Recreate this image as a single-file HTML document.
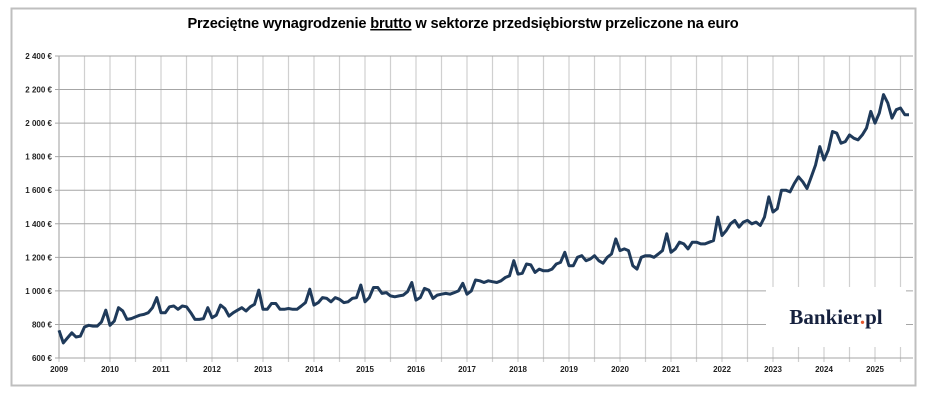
<!DOCTYPE html>
<html><head><meta charset="utf-8">
<style>
html,body{margin:0;padding:0;background:#fff;width:948px;height:403px;overflow:hidden;font-family:"Liberation Sans",Arial,sans-serif;}
</style></head><body>
<svg id="c" width="948" height="403" xmlns="http://www.w3.org/2000/svg" font-family="Liberation Sans, Arial, sans-serif">
<rect x="11.5" y="8.5" width="904" height="377" fill="#fff" stroke="#bfbfbf" stroke-width="2"/>
<text x="463" y="28" text-anchor="middle" font-size="14.6" font-weight="bold" fill="#000" letter-spacing="-0.15">Przeciętne wynagrodzenie <tspan text-decoration="underline">brutto</tspan> w sektorze przedsiębiorstw przeliczone na euro</text>
<g id="grid"></g>
<rect x="766" y="287" width="140" height="60" fill="#fff"/>
<text x="836" y="324" text-anchor="middle" font-family="Liberation Serif, serif" font-size="21" font-weight="bold" fill="#16213e">Bankier<tspan fill="#e4572e">.</tspan>pl</text>
</svg>
<script>
var svg=document.getElementById('c'),g=document.getElementById('grid');
var NS="http://www.w3.org/2000/svg";
function el(t,a,txt){var e=document.createElementNS(NS,t);for(var k in a)e.setAttribute(k,a[k]);if(txt)e.textContent=txt;return e;}
function Y(v){return 358-(v-600)*302/1800;}
var x0=59,xw=51,xr=913;
for(var h=0;h<=33;h++){var x=x0+h*xw/2;if(x>xr)break;g.appendChild(el('line',{x1:x,x2:x,y1:56,y2:362,stroke:'#d0d0d0','stroke-width':1.2}));}
for(var v=600;v<=2400;v+=200){var y=Y(v);g.appendChild(el('line',{x1:55,x2:xr,y1:y,y2:y,stroke:'#a6a6a6','stroke-width':1}));
var s=v>=1000?(Math.floor(v/1000)+' '+String(v%1000).padStart(3,'0')+' €'):(v+' €');
g.appendChild(el('text',{x:52,y:y+3,'text-anchor':'end','font-size':8,'font-weight':'bold',fill:'#222'},s));}
g.appendChild(el('line',{x1:x0,x2:x0,y1:56,y2:358,stroke:'#a6a6a6'}));
g.appendChild(el('line',{x1:x0,x2:xr,y1:358,y2:358,stroke:'#a6a6a6'}));
for(var yr=2009;yr<=2025;yr++){var x=x0+(yr-2009)*xw;g.appendChild(el('text',{x:x,y:372,'text-anchor':'middle','font-size':8,'font-weight':'bold',fill:'#222'},String(yr)));}
var d=[765,690,720,750,725,730,785,795,790,790,815,885,
795,820,900,880,830,835,845,855,860,870,900,960,
870,870,905,910,890,910,905,870,830,830,835,900,
840,855,915,895,850,870,885,900,880,905,920,1005,
890,890,925,925,890,890,895,890,890,910,930,1010,
915,930,960,955,935,960,950,930,935,955,960,1035,
935,960,1020,1020,985,990,970,965,970,975,995,1050,
945,960,1015,1005,955,975,980,985,980,990,1000,1045,
980,1000,1065,1060,1050,1060,1055,1050,1060,1080,1090,1180,
1100,1105,1160,1155,1110,1130,1120,1120,1130,1160,1170,1230,
1150,1150,1200,1210,1180,1190,1210,1180,1165,1200,1220,1310,
1240,1250,1240,1150,1130,1200,1210,1210,1200,1220,1240,1340,
1230,1250,1290,1280,1250,1290,1290,1280,1280,1290,1300,1440,
1330,1360,1400,1420,1380,1410,1420,1400,1410,1390,1440,1560,
1470,1490,1600,1600,1590,1640,1680,1650,1610,1680,1750,1860,
1780,1840,1950,1940,1880,1890,1930,1910,1900,1930,1970,2070,
2000,2060,2170,2120,2030,2080,2090,2050,2050];
var pts=d.map(function(v,i){return (x0+i*xw/12).toFixed(1)+','+Y(v).toFixed(1);}).join(' ');
g.appendChild(el('polyline',{points:pts,fill:'none',stroke:'#1f3a5a','stroke-width':3,'stroke-linejoin':'round'}));
</script>
</body></html>
